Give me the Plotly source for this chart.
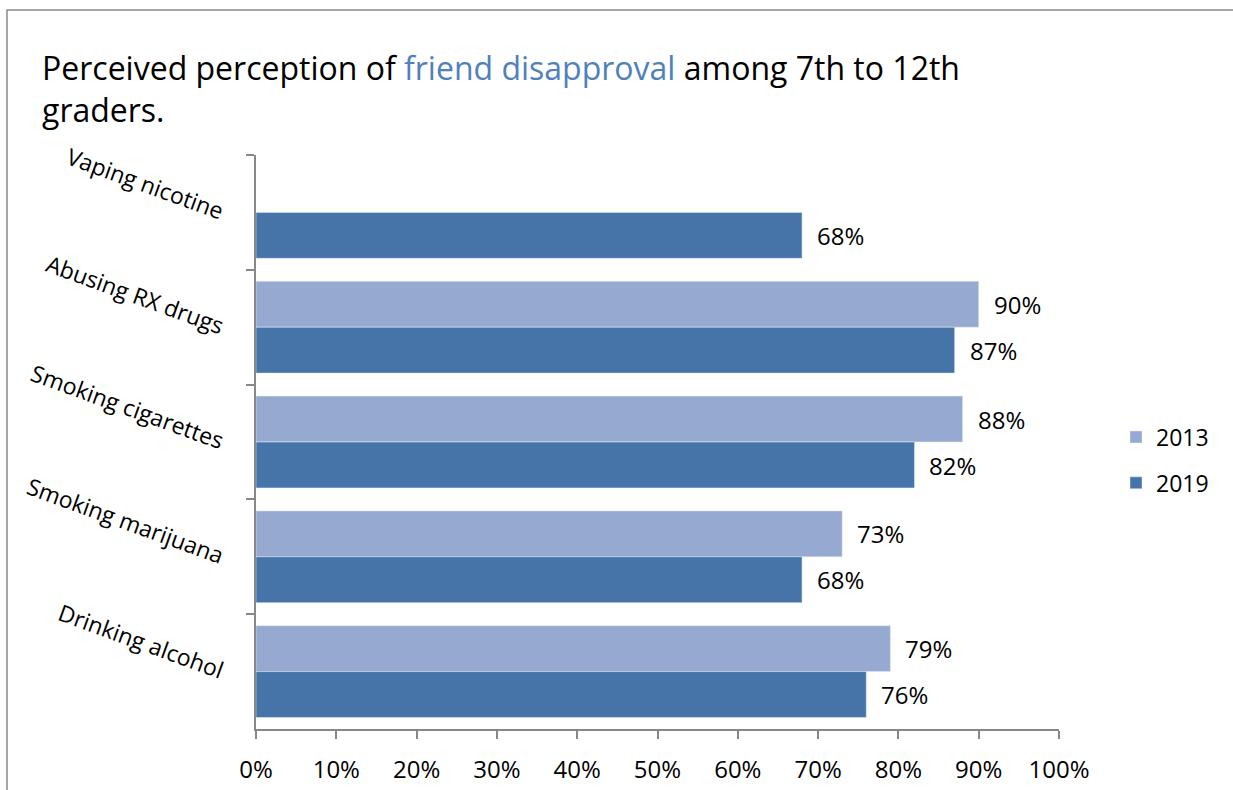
import plotly.graph_objects as go

categories = ["Vaping nicotine", "Abusing RX drugs", "Smoking cigarettes",
              "Smoking marijuana", "Drinking alcohol"]
values_2013 = [None, 0.90, 0.88, 0.73, 0.79]
values_2019 = [0.68, 0.87, 0.82, 0.68, 0.76]
series_names = ["2013", "2019"]
x_ticks = [0, 0.1, 0.2, 0.3, 0.4, 0.5, 0.6, 0.7, 0.8, 0.9, 1.0]

FONT = "Open Sans"
LIGHT = "#95A9D1"
DARK = "#4674A8"
GRAY = "#878787"

fig = go.Figure()
fig.add_trace(go.Bar(y=categories, x=values_2013, name=series_names[0], orientation="h",
                     marker=dict(color=LIGHT), legendgroup="a"))
fig.add_trace(go.Bar(y=categories, x=values_2019, name=series_names[1], orientation="h",
                     marker=dict(color=DARK), legendgroup="b"))

# data labels
for vals, off in ((values_2013, -0.2), (values_2019, 0.2)):
    for c, v in zip(categories, vals):
        if v is None:
            continue
        fig.add_annotation(x=v, y=c, yshift=-off * 115, xshift=13, text=f"{round(v*100)}%",
                           showarrow=False, xanchor="left", yanchor="middle",
                           font=dict(family=FONT, size=24, color="#000"))

W, H = 1233, 790
L, R, T, B = 256, 1059, 155, 729
fig.update_layout(
    width=W, height=H,
    margin=dict(l=L, r=W - R, t=T, b=H - B, pad=0),
    paper_bgcolor="white", plot_bgcolor="white",
    barmode="group", bargap=0.2, bargroupgap=0,
    font=dict(family=FONT, color="#000"),
    title=dict(text="Perceived perception of <span style='color:#4F81BD'>friend disapproval</span> among 7th to 12th<br>graders.",
               x=42 / W, xanchor="left", xref="container",
               y=1 - 80 / H, yanchor="top", yref="container",
               font=dict(family=FONT, size=32, color="#000")),
    legend=dict(x=(1116 - L) / (R - L), xanchor="left", y=(B - 460) / (B - T), yanchor="middle",
                font=dict(family=FONT, size=23), traceorder="grouped", tracegroupgap=13,
                itemwidth=30, bgcolor="rgba(0,0,0,0)"),
    xaxis=dict(range=[0, 1], tickvals=x_ticks, tickformat=".0%", showgrid=False,
               showline=True, linecolor=GRAY, linewidth=1.5, ticks="outside", ticklen=8,
               tickcolor=GRAY, tickwidth=1.5, tickfont=dict(family=FONT, size=24),
               ticklabelstandoff=10, zeroline=False, fixedrange=True, automargin=False),
    yaxis=dict(categoryorder="array", categoryarray=categories, autorange="reversed",
               showgrid=False, showline=True, linecolor=GRAY, linewidth=1.5,
               ticks="outside", ticklen=8, tickcolor=GRAY, tickwidth=1.5,
               tickson="boundaries", tickangle=20, ticklabelstandoff=26, automargin=False,
               tickfont=dict(family=FONT, size=23)),
    shapes=[dict(type="rect", xref="paper", yref="paper",
                 x0=(7 - L) / (R - L), x1=(W + 20 - L) / (R - L),
                 y0=(B - (H + 20)) / (B - T), y1=(B - 10) / (B - T),
                 line=dict(color="#8A8A8A", width=1.5), fillcolor="rgba(0,0,0,0)", layer="below")],
)

fig.write_html("out.html")
